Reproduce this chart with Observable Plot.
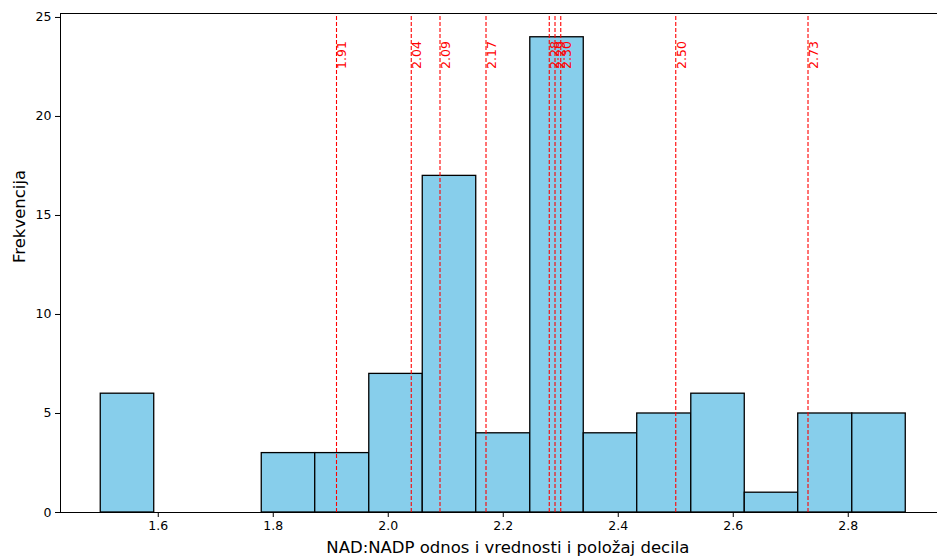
<!DOCTYPE html>
<html>
<head>
<meta charset="utf-8">
<script src="https://cdn.jsdelivr.net/npm/d3@7"></script>
<script src="https://cdn.jsdelivr.net/npm/@observablehq/plot@0.6"></script>
<style>
  html, body { margin: 0; padding: 0; background: #fff; }
  svg { font-family: "DejaVu Sans", sans-serif; }
</style>
</head>
<body>
<div id="chart"></div>
<script>
// Histogram bin edges (15 bins) and counts
const binEdges = [1.500, 1.593, 1.687, 1.780, 1.873, 1.967, 2.060, 2.153, 2.247, 2.340, 2.433, 2.527, 2.620, 2.713, 2.807, 2.900];
const counts   = [6, 0, 0, 3, 3, 7, 17, 4, 24, 4, 5, 6, 1, 5, 5];
// Decile positions
const deciles      = [1.91, 2.04, 2.09, 2.17, 2.28, 2.29, 2.30, 2.50, 2.73];
const decileLabels = ["1.91", "2.04", "2.09", "2.17", "2.28", "2.29", "2.30", "2.50", "2.73"];
// Ticks and labels
const xTicks = [1.6, 1.8, 2.0, 2.2, 2.4, 2.6, 2.8];
const yTicks = [0, 5, 10, 15, 20, 25];
const xLabel = "NAD:NADP odnos i vrednosti i položaj decila";
const yLabel = "Frekvencija";

const bins = counts.map((c, i) => ({x1: binEdges[i], x2: binEdges[i + 1], count: c}));
const labelRows = deciles.map((d, i) => ({x: d, label: decileLabels[i]}));

const xDomain = [1.43, 2.9552];
const yDomain = [0, 25.2];

const chart = Plot.plot({
  width: 937,
  height: 557,
  marginLeft: 60,
  marginRight: 0,
  marginTop: 13,
  marginBottom: 45,
  style: {fontFamily: "DejaVu Sans, sans-serif", fontSize: "12.5px", background: "#fff", color: "#000"},
  x: {domain: xDomain},
  y: {domain: yDomain},
  marks: [
    Plot.rectY(bins.filter(d => d.count > 0), {x1: "x1", x2: "x2", y: "count", fill: "#87CEEB", stroke: "#000", strokeWidth: 1.3}),
    Plot.ruleX(deciles, {x: d => d, y1: yDomain[0], y2: yDomain[1], stroke: "red", strokeWidth: 1.1, strokeDasharray: "4,2"}),
    Plot.text(labelRows, {x: "x", y: 22.4, text: "label", rotate: -90, textAnchor: "start", lineAnchor: "top", fill: "red", fontSize: 12.5, dx: 1}),
    // spines
    Plot.ruleY([yDomain[0]], {stroke: "#000", strokeWidth: 1}),
    Plot.ruleY([yDomain[1]], {stroke: "#000", strokeWidth: 1}),
    Plot.ruleX([xDomain[0]], {stroke: "#000", strokeWidth: 1}),
    Plot.axisX({ticks: xTicks, tickFormat: d => d.toFixed(1), tickSize: 5, tickPadding: 4, label: null, fontSize: 12.5}),
    Plot.axisY({ticks: yTicks, tickFormat: d => String(d), tickSize: 5, tickPadding: 4, label: null, fontSize: 12.5}),
    Plot.text([xLabel], {x: 2.208, frameAnchor: "bottom", dy: 35.7, text: d => d, lineAnchor: "middle", fontSize: 16.5, fill: "#000"}),
    Plot.text([yLabel], {frameAnchor: "left", dx: -40.3, text: d => d, rotate: -90, lineAnchor: "middle", fontSize: 16.5, fill: "#000"})
  ]
});
document.getElementById("chart").appendChild(chart);
</script>
</body>
</html>
